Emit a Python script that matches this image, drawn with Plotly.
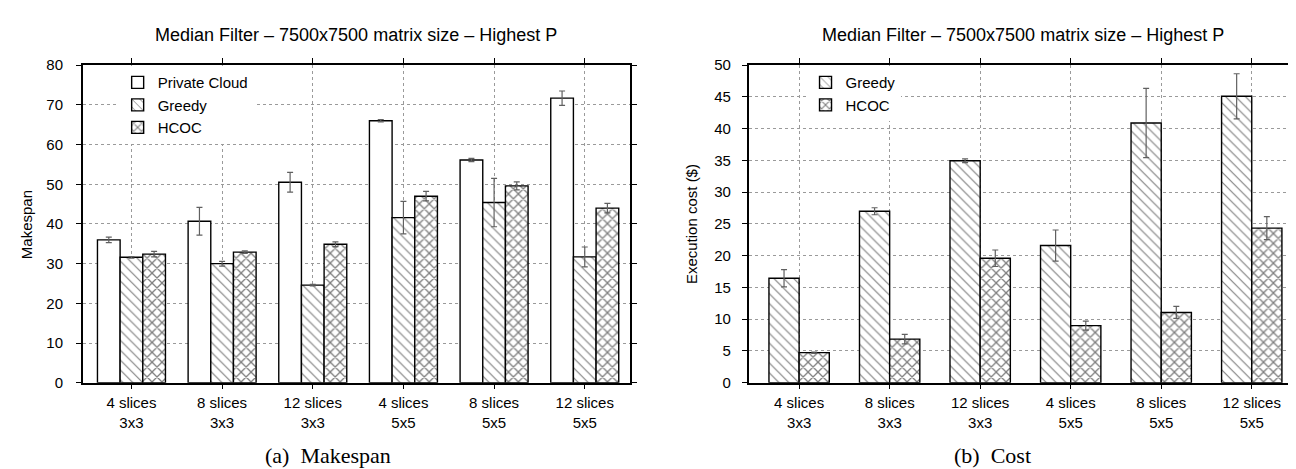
import plotly.graph_objects as go

# ---------------- data ----------------
categories = ["4 slices<br>3x3", "8 slices<br>3x3", "12 slices<br>3x3",
              "4 slices<br>5x5", "8 slices<br>5x5", "12 slices<br>5x5"]

# (a) Makespan
private_cloud = [36.0, 40.7, 50.5, 66.0, 56.1, 71.7]
private_cloud_err = [0.7, 3.5, 2.5, 0.3, 0.4, 1.8]
greedy_makespan = [31.6, 30.0, 24.6, 41.6, 45.4, 31.7]
greedy_makespan_err = [0.2, 0.6, 0.2, 4.1, 6.1, 2.5]
hcoc_makespan = [32.4, 32.9, 34.9, 47.0, 49.6, 44.0]
hcoc_makespan_err = [0.7, 0.3, 0.6, 1.2, 1.0, 1.2]

# (b) Cost
greedy_cost = [16.45, 27.0, 34.95, 21.6, 40.9, 45.1]
greedy_cost_err = [1.35, 0.55, 0.3, 2.45, 5.45, 3.55]
hcoc_cost = [4.74, 6.87, 19.6, 9.0, 11.07, 24.35]
hcoc_cost_err = [0.1, 0.75, 1.3, 0.7, 0.95, 1.8]

title_text = "Median Filter \u2013 7500x7500 matrix size \u2013 Highest P"

# ---------------- style ----------------
W, H = 1296, 469
FONT = "Liberation Sans"
OUTLINE = dict(color="black", width=1.4)
ERR = dict(color="#606060", thickness=1.2, width=3)

def px(x):
    return x / W

def py(y):
    return 1 - y / H

left_dom = [px(75), px(624)]
right_dom = [px(743), px(1293)]
y_dom = [py(379.5), py(50)]

patterns = {
    "Private Cloud": dict(shape=""),
    "Greedy": dict(shape="\\", size=7, solidity=0.16, fgcolor="black", bgcolor="white", fillmode="overlay"),
    "HCOC": dict(shape="x", size=7, solidity=0.34, fgcolor="black", bgcolor="white", fillmode="overlay"),
}

fig = go.Figure()

def add_bar(name, vals, errs, xa, ya, offset, width, legend):
    fig.add_trace(go.Bar(
        x=categories, y=vals, name=name,
        xaxis=xa, yaxis=ya,
        offset=offset, width=width,
        marker=dict(color="white", line=OUTLINE, pattern=patterns[name]),
        error_y=dict(type="data", array=errs, visible=True, **ERR),
        legend=legend,
    ))

# left chart: three bars per group
add_bar("Private Cloud", private_cloud, private_cloud_err, "x", "y", -0.375, 0.25, "legend")
add_bar("Greedy", greedy_makespan, greedy_makespan_err, "x", "y", -0.125, 0.25, "legend")
add_bar("HCOC", hcoc_makespan, hcoc_makespan_err, "x", "y", 0.125, 0.25, "legend")
# right chart: two bars per group
add_bar("Greedy", greedy_cost, greedy_cost_err, "x2", "y2", -1/3, 1/3, "legend2")
add_bar("HCOC", hcoc_cost, hcoc_cost_err, "x2", "y2", 0.0, 1/3, "legend2")

axis_common = dict(
    showline=True, linecolor="black", linewidth=1.5, mirror="ticks",
    ticks="outside", ticklen=5, tickcolor="black", tickwidth=1.2,
    showgrid=True, gridcolor="#9a9a9a", griddash="dot", gridwidth=1,
    zeroline=False, tickfont=dict(family=FONT, size=15, color="black"),
)

fig.update_layout(
    width=W, height=H,
    margin=dict(l=0, r=0, t=0, b=0),
    paper_bgcolor="white", plot_bgcolor="white",
    barmode="overlay",
    font=dict(family=FONT, size=15, color="black"),
    xaxis=dict(domain=left_dom, anchor="y", type="category",
               range=[-0.537, 5.5], ticklabelstandoff=1, **axis_common),
    yaxis=dict(domain=y_dom, anchor="x", range=[0, 80], dtick=10,
               ticklabelstandoff=10, **axis_common),
    xaxis2=dict(domain=right_dom, anchor="y2", type="category",
                range=[-0.557, 5.5], ticklabelstandoff=1, **axis_common),
    yaxis2=dict(domain=y_dom, anchor="x2", range=[0, 50], dtick=5,
                ticklabelstandoff=8, **axis_common),
    legend=dict(x=px(110), y=py(51), xanchor="left", yanchor="top",
                bgcolor="white", borderwidth=0, tracegroupgap=0,
                font=dict(family=FONT, size=15, color="black")),
    legend2=dict(x=px(800), y=py(51), xanchor="left", yanchor="top",
                 bgcolor="white", borderwidth=0, tracegroupgap=0,
                 font=dict(family=FONT, size=15, color="black")),
    showlegend=True,
)

annotations = [
    dict(text=title_text, x=px((75 + 624) / 2), y=py(19), xref="paper", yref="paper",
         showarrow=False, font=dict(family=FONT, size=18, color="black"),
         xanchor="center", yanchor="middle"),
    dict(text=title_text, x=px((743 + 1293) / 2), y=py(19), xref="paper", yref="paper",
         showarrow=False, font=dict(family=FONT, size=18, color="black"),
         xanchor="center", yanchor="middle"),
    dict(text="Makespan", x=px(18), y=py(215), xref="paper", yref="paper",
         showarrow=False, textangle=-90, font=dict(family=FONT, size=15, color="black"),
         xanchor="center", yanchor="middle"),
    dict(text="Execution cost ($)", x=px(685), y=py(215), xref="paper", yref="paper",
         showarrow=False, textangle=-90, font=dict(family=FONT, size=15, color="black"),
         xanchor="center", yanchor="middle"),
    dict(text="(a)  Makespan", x=px(321), y=py(455), xref="paper", yref="paper",
         showarrow=False, font=dict(family="Liberation Serif", size=22, color="black"),
         xanchor="center", yanchor="middle"),
    dict(text="(b)  Cost", x=px(988), y=py(455), xref="paper", yref="paper",
         showarrow=False, font=dict(family="Liberation Serif", size=22, color="black"),
         xanchor="center", yanchor="middle"),
]
fig.update_layout(annotations=annotations)

fig.write_html("out.html")
